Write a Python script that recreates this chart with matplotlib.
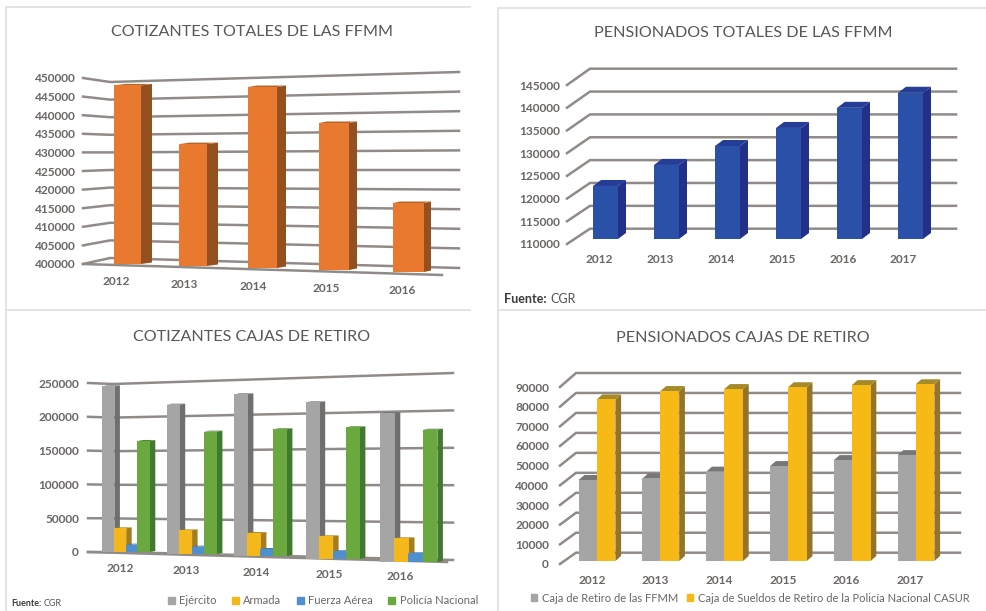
import matplotlib
matplotlib.use('Agg')
import matplotlib.pyplot as plt
from matplotlib.patches import Patch
from matplotlib.lines import Line2D

plt.rcParams['font.family'] = ['Lato', 'DejaVu Sans']

W, H = 986, 611

# datos
years_a = ['2012', '2013', '2014', '2015', '2016']
years_b = ['2012', '2013', '2014', '2015', '2016', '2017']

cotizantes_totales = [448000, 432500, 447500, 437500, 416500]
pensionados_totales = [121600, 126200, 130350, 134300, 138700, 142000]

cot_ejercito = [243600, 218000, 234300, 223800, 208400]
cot_armada = [34800, 34500, 33300, 32400, 33100]
cot_fuerza_aerea = [10800, 10700, 10100, 11000, 12100]
cot_policia = [163200, 178600, 183600, 188100, 185000]

pen_cremil = [40700, 41500, 44900, 47700, 50700, 53200]
pen_casur = [81200, 85400, 86400, 87300, 88400, 88800]

ticks_1 = [400000, 405000, 410000, 415000, 420000, 425000, 430000, 435000, 440000, 445000, 450000]
ticks_2 = [110000, 115000, 120000, 125000, 130000, 135000, 140000, 145000]
ticks_3 = [0, 50000, 100000, 150000, 200000, 250000]
ticks_4 = [0, 10000, 20000, 30000, 40000, 50000, 60000, 70000, 80000, 90000]

TEXT = '#6a6664'
TITLE = '#5a5755'
GRID = '#918b88'


def make_axes(x0, x1, top, bottom, ticks, tick_top, tick_bottom):
    # el eje x va en pixeles y el eje y en valores
    ax = fig.add_axes([x0 / W, 1 - bottom / H, (x1 - x0) / W, (bottom - top) / H])
    ppv = (tick_bottom - tick_top) / (ticks[-1] - ticks[0])
    ax.set_xlim(x0, x1)
    ax.set_ylim(ticks[0] + (tick_bottom - bottom) / ppv, ticks[0] + (tick_bottom - top) / ppv)
    ax.set_yticks(ticks)
    ax.set_yticklabels([str(t) for t in ticks], fontsize=8.6, color=TEXT, fontweight='bold')
    ax.tick_params(axis='y', length=0, pad=0)
    ax.set_xticks([])
    ax.set_frame_on(False)
    ax.patch.set_alpha(0)
    ax.ppv = ppv
    ax.y0 = ticks[0]
    ax.py0 = tick_bottom
    return ax


def val(ax, py):
    return ax.y0 + (ax.py0 - py) / ax.ppv


def walls(ax, ticks, wall_x, back_x, back_bottom, back_top, right_x, right_bottom, right_top, floor=None):
    n = len(ticks) - 1
    for i, v in enumerate(ticks):
        t = i / n
        back_y = back_bottom + (back_top - back_bottom) * t
        right_y = right_bottom + (right_top - right_bottom) * t
        ax.plot([wall_x, back_x, right_x], [v, val(ax, back_y), val(ax, right_y)],
                color=GRID, lw=1.8, zorder=1, clip_on=False, solid_joinstyle='miter')
    if floor:
        ax.plot([wall_x, floor[0]], [ticks[0], val(ax, floor[1])], color=GRID, lw=1.8, zorder=1, clip_on=False)


def bars3d(ax, lefts, widths, bases, scales, values, color, side, top, dx, dy, z=3):
    # cara frontal con ax.bar, cara lateral y superior con ax.fill
    heights = []
    bottoms = []
    for i, v in enumerate(values):
        b = val(ax, bases[i])
        bottoms.append(b)
        heights.append((v - ax.base) * scales[i] / ax.ppv)
    ax.bar(lefts, heights, width=widths, bottom=bottoms, align='edge', color=color, zorder=z + 0.2, linewidth=0)
    for i in range(len(values)):
        xl = lefts[i]
        xr = lefts[i] + widths[i]
        d = dx[i] if isinstance(dx, list) else dx
        up = dy / ax.ppv
        b = bottoms[i]
        t = bottoms[i] + heights[i]
        ax.fill([xr, xr + d, xr + d, xr], [b, b + up, t + up, t], color=side, zorder=z, linewidth=0)
        ax.fill([xl, xr, xr + d, xl + d], [t, t, t + up, t + up], color=top, zorder=z + 0.1, linewidth=0)


def year_labels(ax, xs, ys, labels):
    for x, y, lab in zip(xs, ys, labels):
        ax.text(x, val(ax, y), lab, ha='center', va='center', fontsize=8.6, color=TEXT, fontweight='bold')


def frame(x0, x1, y0, y1):
    fig.add_artist(Line2D([x0 / W, x0 / W], [1 - y0 / H, 1 - y1 / H], color='#e4e0e0', lw=1.3))
    fig.add_artist(Line2D([x0 / W, x1 / W], [1 - y0 / H, 1 - y0 / H], color='#e4e0e0', lw=1.3))


def title(x, y, s):
    fig.text(x / W, 1 - y / H, s, ha='center', va='center', fontsize=11.6, color=TITLE)


fig = plt.figure(figsize=(W / 100, H / 100), dpi=100, facecolor='white')

frame(6, 470, 7, 309)
frame(498, 986, 8, 309)
frame(6, 470, 310, 611)
frame(498, 986, 310, 611)

title(252, 32, 'COTIZANTES TOTALES DE LAS FFMM')
title(743, 33, 'PENSIONADOS TOTALES DE LAS FFMM')
title(252, 337, 'COTIZANTES CAJAS DE RETIRO')
title(743, 338, 'PENSIONADOS CAJAS DE RETIRO')

# panel 1
ax1 = make_axes(76, 470, 60, 300, ticks_1, 78, 264)
ax1.base = 400000
walls(ax1, ticks_1, 83, 110, 258, 82, 459, 268, 72, floor=(442, 275))
bars3d(ax1, [114, 179, 248, 319, 393], [27, 28, 29, 30, 31], [264, 266, 268, 270, 272],
       [3.72e-3, 3.75e-3, 3.81e-3, 3.92e-3, 4.18e-3], cotizantes_totales,
       '#e8792f', '#95501f', '#b5652a', [11, 11, 9, 8, 7], 1.5)
year_labels(ax1, [116, 184, 253, 326, 402], [282, 284, 286, 288, 290], years_a)

# panel 2
ax2 = make_axes(560, 970, 60, 290, ticks_2, 85, 244)
ax2.base = 110000
walls(ax2, ticks_2, 567, 590, 228.7, 68.7, 956, 228.7, 68.7)
lefts_2 = [593 + 61 * i for i in range(6)]
bars3d(ax2, lefts_2, [25] * 6, [239] * 6, [4.57e-3] * 6, pensionados_totales,
       '#2b50a8', '#23308a', '#253d96', 8, 6)
year_labels(ax2, [599, 660, 720.7, 781.7, 842.7, 903], [260] * 6, years_b)

# panel 3
ax3 = make_axes(79, 470, 360, 590, ticks_3, 383, 552)
ax3.base = 0
walls(ax3, ticks_3, 88, 113, 552, 384, 453, 560, 373, floor=(447, 562))
group_left = [102, 166.7, 234.3, 305.7, 380]
group_step = [11.8, 12.4, 13, 13.4, 14.2]
bar_w_3 = [s + 0.6 for s in group_step]
bases_3 = [552, 554, 556, 559, 562]
scales_3 = [0.68e-3, 0.685e-3, 0.69e-3, 0.70e-3, 0.715e-3]
series_3 = [
    (cot_ejercito, '#a5a5a5', '#6f6f6f', '#777777', 0),
    (cot_armada, '#f5b81c', '#a67c1c', '#b08a22', 1),
    (cot_fuerza_aerea, '#4f8fcf', '#3a6d9e', '#3f77ab', 2),
    (cot_policia, '#6ba83f', '#3f7a2e', '#4a8632', 3),
]
for vals, col, side, top, k in series_3:
    lefts = [g + k * s for g, s in zip(group_left, group_step)]
    bars3d(ax3, lefts, bar_w_3, bases_3, scales_3, vals, col, side, top, 5.5, 1, z=3 + k)
year_labels(ax3, [120, 186, 256, 329, 400], [568, 571, 573, 575, 577], years_a)
ax3.legend(handles=[Patch(color='#a5a5a5', label='Ejército'), Patch(color='#f5b81c', label='Armada'),
                    Patch(color='#4f8fcf', label='Fuerza Aérea'), Patch(color='#6ba83f', label='Policía Nacional')],
           loc='center', bbox_to_anchor=(323 / W, 1 - 601 / H), bbox_transform=fig.transFigure, ncol=4, frameon=False,
           fontsize=8.0, labelcolor=TEXT, handlelength=0.6, handleheight=0.6, handletextpad=0.4, columnspacing=1.4,
           borderpad=0, borderaxespad=0)

# panel 4
ax4 = make_axes(549, 975, 360, 590, ticks_4, 387, 564)
ax4.base = 0
walls(ax4, ticks_4, 560, 576, 552.7, 373, 960, 552.7, 373)
lefts_4a = [578.7 + 63.8 * i for i in range(6)]
lefts_4b = [x + 18 for x in lefts_4a]
bars3d(ax4, lefts_4a, [18] * 6, [561] * 6, [1.99e-3] * 6, pen_cremil, '#a5a5a5', '#6f6f6f', '#777777', 5.7, 5, z=3)
bars3d(ax4, lefts_4b, [18.7] * 6, [561] * 6, [1.99e-3] * 6, pen_casur, '#f6b915', '#94732a', '#a58a2a', 5.7, 5, z=4)
year_labels(ax4, [592, 655.3, 719, 783, 846, 910], [580] * 6, years_b)
ax4.legend(handles=[Patch(color='#a5a5a5', label='Caja de Retiro de las FFMM'),
                    Patch(color='#f6b915', label='Caja de Sueldos de Retiro de la Policía Nacional CASUR')],
           loc='center', bbox_to_anchor=(750 / W, 1 - 598 / H), bbox_transform=fig.transFigure, ncol=2, frameon=False,
           fontsize=8.0, labelcolor=TEXT, handlelength=0.6, handleheight=0.6, handletextpad=0.4, columnspacing=0.8,
           borderpad=0, borderaxespad=0)

# fuentes
fig.text(504 / W, 1 - 299 / H, 'Fuente:', fontsize=9, fontweight='bold', color='#3c3a39', va='center')
fig.text(550 / W, 1 - 299 / H, 'CGR', fontsize=9, color='#55514f', va='center')
fig.text(11 / W, 1 - 603 / H, 'Fuente:', fontsize=6.5, fontweight='bold', color='#3c3a39', va='center')
fig.text(44 / W, 1 - 603 / H, 'CGR', fontsize=6.5, color='#55514f', va='center')

plt.savefig('out.png', dpi=100)
